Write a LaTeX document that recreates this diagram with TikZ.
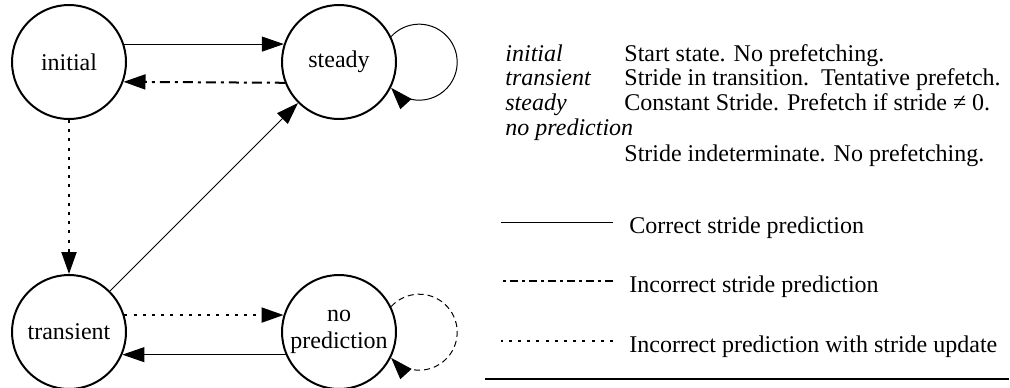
\documentclass[tikz,border=0pt]{standalone}
\usepackage{fontspec}
\setmainfont{Liberation Serif}
\usetikzlibrary{arrows.meta}
\usetikzlibrary{positioning}

\begin{document}
\begin{tikzpicture}[x=0.5pt,y=0.5pt,
  state/.style={draw, circle, line width=1pt, minimum size=57pt, inner sep=0pt,
    align=center, font=\fontsize{12}{13.5}\selectfont},
  tip/.style={-{Triangle[length=11pt,width=7.5pt]}},
  correct/.style={line width=0.5pt},
  wrong/.style={line width=1pt, dash pattern=on 5pt off 2.5pt on 1.5pt off 2.5pt},
  update/.style={line width=1pt, dash pattern=on 1.5pt off 3.1pt},
  retry/.style={line width=0.5pt, dash pattern=on 3pt off 2pt},
  lbl/.style={anchor=base west, inner sep=0pt, font=\fontsize{12}{13.5}\selectfont\itshape},
  txt/.style={anchor=base west, inner sep=0pt, font=\fontsize{12}{13.5}\selectfont}]
\useasboundingbox (0,0) rectangle (1010,387);

% Define nodes
\node[state] (initial) at (69,325) {initial};
\node[state, right=77pt of initial] (steady) {steady};
\node[state, below=77pt of initial] (transient) {transient};
\node[state, right=77pt of transient] (nopred) {no\\prediction};

% Edges
\draw[correct, tip] (initial.18) -- (steady.162);
\draw[wrong, tip] (steady.-159.5) -- (initial.-20.5);
\draw[update, tip] (initial) -- (transient);
\draw[correct, tip] (transient) -- (steady);
\draw[update, tip] (transient.17) -- (nopred.163);
\draw[correct, tip] (nopred.-157) -- (transient.-23);

% Self loops
\draw[correct, tip] (steady.26.7) arc[start angle=137.6, end angle=-137.6, radius=19pt];
\draw[retry, tip] (nopred.26.7) arc[start angle=137.6, end angle=-137.6, radius=19pt];

% Legend: states
\node[lbl] (linit) at (505,326) {initial};
\node[lbl] (ltrans) at (505,302) {transient};
\node[lbl] (lsteady) at (505,277) {steady};
\node[lbl] (lnopred) at (505,252) {no prediction};
\node[txt] (dinit) at (624,326) {Start state. No prefetching.};
\node[txt] (dtrans) at (624,302) {Stride in transition.\ \ Tentative prefetch.};
\node[txt] (dsteady) at (624,277) {Constant Stride. Prefetch if stride ≠ 0.};
\node[txt] (dnopred) at (624,226) {Stride indeterminate. No prefetching.};

% Legend: edges
\node[txt] (kcorrect) at (629,154) {Correct stride prediction};
\node[txt] (kwrong) at (629,95) {Incorrect stride prediction};
\node[txt] (kupdate) at (629,35) {Incorrect prediction with stride update};
\draw[correct] ([shift={(-8pt,5.5pt)}]kcorrect.base west) -- ++(-56pt,0);
\draw[line width=0.8pt, dash pattern=on 4pt off 2pt on 1.5pt off 2pt]
  ([shift={(-8pt,5.5pt)}]kwrong.base west) -- ++(-56pt,0);
\draw[update] ([shift={(-8pt,5.5pt)}]kupdate.base west) -- ++(-56pt,0);
\draw[line width=1.2pt] (485,8) -- (1009,8);
\end{tikzpicture}
\end{document}
